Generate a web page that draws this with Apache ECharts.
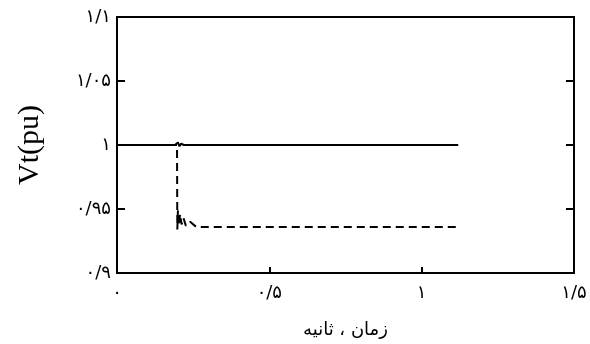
<!DOCTYPE html>
<html><head><meta charset="utf-8">
<script src="https://cdn.jsdelivr.net/npm/echarts@6/dist/echarts.min.js"></script>
<style>html,body{margin:0;padding:0;background:#fff}#c{width:590px;height:344px}</style>
</head><body><div id="c"></div>
<script>
var xTicks = [0, 0.5, 1, 1.5];
var xTickLabels = ['۰', '۰/۵', '۱', '۱/۵'];
var yTicks = [0.9, 0.95, 1, 1.05, 1.1];
var yTickLabels = ['۰/۹', '۰/۹۵', '۱', '۱/۰۵', '۱/۱'];
var solidT = [0, 0.19, 0.2, 0.205, 0.21, 0.22, 1.12];
var solidV = [1.0, 1.0, 1.002, 0.999, 1.001, 1.0, 1.0];
var dashT = [0, 0.197, 0.198, 0.2, 0.203, 0.207, 0.212, 0.218, 0.226, 0.24, 0.26, 0.3, 1.12];
var dashV = [1.0, 1.0, 0.934, 0.949, 0.937, 0.946, 0.938, 0.943, 0.937, 0.94, 0.936, 0.936, 0.936];

function pairs(t, v) { return t.map(function (x, i) { return [x, v[i]]; }); }
function lookup(ticks, labels) {
  return function (val) {
    for (var i = 0; i < ticks.length; i++) if (Math.abs(ticks[i] - val) < 1e-9) return labels[i];
    return '';
  };
}
var chart = echarts.init(document.getElementById('c'));
chart.setOption({
  animation: false,
  grid: { left: 117, right: 16, top: 17, bottom: 71, show: true, borderColor: '#000', borderWidth: 2, backgroundColor: 'transparent' },
  xAxis: {
    type: 'value', min: 0, max: 1.5, interval: 0.5,
    axisLine: { show: false },
    axisTick: { show: true, inside: true, length: 6, lineStyle: { color: '#000', width: 2 } },
    splitLine: { show: false },
    axisLabel: { formatter: lookup(xTicks, xTickLabels), color: '#000', fontFamily: 'DejaVu Sans', fontSize: 18, margin: 11, showMinLabel: true, showMaxLabel: true },
    name: 'زمان ، ثانیه', nameLocation: 'middle', nameGap: 48,
    nameTextStyle: { color: '#000', fontFamily: 'DejaVu Sans', fontSize: 18 }
  },
  yAxis: [{
    type: 'value', min: 0.9, max: 1.1, interval: 0.05,
    axisLine: { show: false },
    axisTick: { show: true, inside: true, length: 8, lineStyle: { color: '#000', width: 2 } },
    splitLine: { show: false },
    axisLabel: { formatter: lookup(yTicks, yTickLabels), color: '#000', fontFamily: 'DejaVu Sans', fontSize: 18, margin: 6 },
    name: 'Vt(pu)', nameLocation: 'middle', nameGap: 72, nameRotate: 90,
    nameTextStyle: { color: '#000', fontFamily: 'Liberation Serif', fontSize: 30 }
  }, {
    type: 'value', min: 0.9, max: 1.1, interval: 0.05, position: 'right',
    axisLine: { show: false },
    axisTick: { show: true, inside: true, length: 8, lineStyle: { color: '#000', width: 2 } },
    splitLine: { show: false },
    axisLabel: { show: false }
  }],
  series: [{
    type: 'line', data: pairs(solidT, solidV), showSymbol: false, symbol: 'none',
    lineStyle: { color: '#000', width: 2 }
  }, {
    type: 'line', data: pairs(dashT, dashV), showSymbol: false, symbol: 'none',
    lineStyle: { color: '#000', width: 2, type: [8, 5] }
  }]
});
</script></body></html>
